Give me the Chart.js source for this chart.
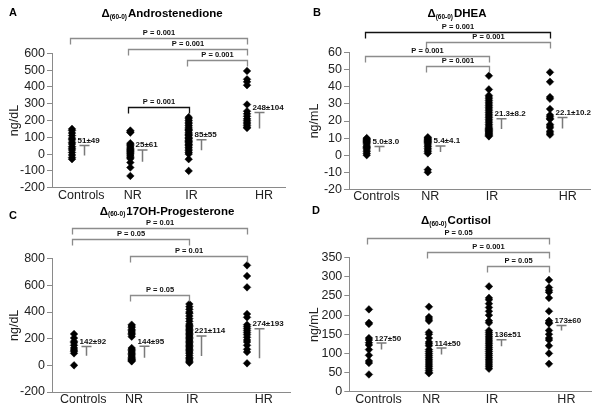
<!DOCTYPE html>
<html lang="en">
<head>
<meta charset="UTF-8">
<title>Δ(60-0) steroid responses</title>
<script src="https://cdn.jsdelivr.net/npm/chart.js"></script>
<style>
  html, body { margin: 0; padding: 0; background: #fff; }
  #grid { display: grid; grid-template-columns: 300px 300px; grid-template-rows: 206px 206px; width: 600px; height: 412px; }
  canvas { display: block; }
</style>
</head>
<body>
<div id="grid">
  <canvas id="panelA" width="300" height="206"></canvas>
  <canvas id="panelB" width="300" height="206"></canvas>
  <canvas id="panelC" width="300" height="206"></canvas>
  <canvas id="panelD" width="300" height="206"></canvas>
</div>

<script>
// groups on the x axis
const groupLabels = ['Controls', 'NR', 'IR', 'HR'];

// Δ(60-0) Androstenedione, ng/dL
const androControls = [150, 140, 125, 110, 95, 85, 70, 60, 45, 35, 25, 10, -5, -20, -30];
const androNR = [140, 132, 128, 65, 58, 50, 42, 35, 28, 22, 15, 8, 2, -5, -12, -20, -28, -50, -80, -130];
const androIR = [220, 210, 200, 190, 180, 170, 160, 150, 145, 140, 130, 120, 115, 110, 100, 95, 90, 80, 75, 70, 60, 55, 50, 40, 30, 20, 10, 0, -30, -100];
const androHR = [495, 445, 430, 410, 295, 255, 240, 225, 210, 200, 190, 180, 170, 160, 155];
const androMean = [51, 25, 85, 248];
const androSD = [49, 61, 55, 104];
const androErr = [60, 70, 62, 96];
const androTicks = [-200, 600, 100];

// Δ(60-0) DHEA, ng/mL
const dheaControls = [10, 9.5, 9, 8.5, 8, 7.5, 7, 6, 5, 4.5, 4, 3, 2, 1, 0];
const dheaNR = [10.5, 10, 9.5, 9, 8.5, 8, 7.5, 7, 6, 5, 4, 3, 2, 1, -8.5, -10];
const dheaIR = [46.5, 38.5, 35, 34, 33, 32, 31, 30, 29, 28, 27, 26, 25, 24, 23, 22, 21, 20, 19, 18, 17, 16, 15.5, 15, 14.5, 14, 13.5, 13, 12.5, 12, 11.5, 11];
const dheaHR = [48.5, 43, 34, 33, 27, 23.5, 22.5, 21.5, 21, 18, 17, 16, 14, 13, 12];
const dheaMean = [5.0, 5.4, 21.3, 22.1];
const dheaSD = [3.0, 4.1, 8.2, 10.2];
const dheaErr = [3, 3.5, 6, 6.5];
const dheaTicks = [-20, 60, 10];

// Δ(60-0) 17OH-Progesterone, ng/dL
const progControls = [235, 205, 180, 170, 150, 130, 115, 105, 90, 0];
const progNR = [305, 295, 285, 270, 260, 250, 240, 230, 215, 130, 120, 110, 100, 90, 80, 70, 60, 50, 45, 40, 35, 30];
const progIR = [460, 440, 420, 400, 390, 370, 350, 330, 310, 300, 290, 280, 270, 260, 250, 240, 230, 220, 210, 200, 190, 180, 170, 160, 150, 140, 130, 120, 110, 100, 90, 75, 60, 50, 40, 30, 20];
const progHR = [750, 670, 585, 385, 360, 305, 290, 275, 260, 245, 230, 210, 190, 175, 150, 120, 100, 15];
const progMean = [142, 144, 221, 274];
const progSD = [92, 95, 114, 193];
const progErr = [70, 87, 150, 220];
const progTicks = [-200, 800, 200];

// Δ(60-0) Cortisol, ng/mL
const cortControls = [215, 180, 177, 140, 135, 128, 122, 110, 95, 80, 75, 45];
const cortNR = [222, 195, 190, 185, 155, 150, 140, 130, 125, 120, 110, 105, 100, 95, 90, 85, 80, 75, 70, 65, 60, 55, 50, 48];
const cortIR = [275, 245, 240, 230, 220, 210, 200, 185, 180, 160, 155, 150, 145, 140, 135, 130, 125, 120, 115, 110, 105, 100, 95, 90, 85, 80, 75, 70, 65, 60];
const cortHR = [292, 272, 265, 260, 245, 210, 185, 180, 178, 160, 150, 140, 135, 120, 100, 73];
const cortMean = [127, 114, 136, 173];
const cortSD = [50, 50, 51, 60];
const cortErr = [17, 17, 17, 13];
const cortTicks = [0, 350, 50];

// significance brackets: [from group, to group, height in axis units, label]
const androBrackets = [[1, 4, 693, 'P = 0.001'], [2, 4, 624, 'P = 0.001'], [3, 4, 560, 'P = 0.001'], [2, 3, 278, 'P = 0.001']];
const dheaBrackets = [[1, 4, 72.3, 'P = 0.001'], [2, 4, 66.4, 'P = 0.001'], [1, 3, 58.1, 'P = 0.001'], [2, 3, 52.2, 'P = 0.001']];
const progBrackets = [[1, 4, 1032, 'P = 0.01'], [1, 3, 945, 'P = 0.05'], [2, 4, 820, 'P = 0.01'], [2, 3, 530, 'P = 0.05']];
const cortBrackets = [[1, 4, 401, 'P = 0.05'], [2, 4, 365, 'P = 0.001'], [3, 4, 328, 'P = 0.05']];

Chart.defaults.font.family = "Arial, 'Liberation Sans', sans-serif";
Chart.defaults.color = '#222';

const AXIS = '#8a8a8a';
const tickPos = [1.16, 2.04, 3.05, 4.29];

function makePanel(id, p) {
    const points = [];
    p.groups.forEach((vals, i) => vals.forEach(v => points.push({ x: i + 1, y: v })));

    const decor = {
        id: 'decor' + id,
        afterDraw(chart) {
            const { ctx, scales: { x, y } } = chart;
            ctx.save();

            // mean marker with downward error stem, and the mean±SD text
            p.mean.forEach((m, i) => {
                const cx = Math.round(x.getPixelForValue(i + 1) + 12) + 0.5;
                const top = y.getPixelForValue(m);
                const bot = y.getPixelForValue(m - p.err[i]);
                ctx.strokeStyle = '#7a7a7a';
                ctx.lineWidth = 1.5;
                ctx.beginPath();
                ctx.moveTo(cx - 5, top); ctx.lineTo(cx + 5, top);
                ctx.moveTo(cx, top); ctx.lineTo(cx, bot);
                ctx.stroke();
                ctx.fillStyle = '#111';
                ctx.font = "bold 8px Arial, 'Liberation Sans', sans-serif";
                ctx.textAlign = 'left';
                ctx.textBaseline = 'alphabetic';
                ctx.fillText(m.toFixed(p.dec) + '±' + p.sd[i].toFixed(p.dec), cx - 7, top - 2.5);
            });

            // brackets with P values
            p.brackets.forEach((b, k) => {
                const x1 = Math.round(x.getPixelForValue(b[0]) - 2) + 0.5;
                const x2 = Math.round(x.getPixelForValue(b[1])) + 0.5;
                const yy = Math.round(y.getPixelForValue(b[2])) + 0.5;
                ctx.strokeStyle = (p.darkBracket === k) ? '#111' : '#8c8c8c';
                ctx.lineWidth = 1.3;
                ctx.beginPath();
                ctx.moveTo(x1, yy + 6); ctx.lineTo(x1, yy); ctx.lineTo(x2, yy); ctx.lineTo(x2, yy + 6);
                ctx.stroke();
                ctx.fillStyle = '#111';
                ctx.font = "bold 7.5px Arial, 'Liberation Sans', sans-serif";
                ctx.textAlign = 'center';
                ctx.textBaseline = 'bottom';
                ctx.fillText(b[3], (x1 + x2) / 2, yy - 1.5);
            });

            // panel letter and title with subscript
            ctx.fillStyle = '#000';
            ctx.textBaseline = 'middle';
            ctx.textAlign = 'left';
            ctx.font = "bold 11px Arial, 'Liberation Sans', sans-serif";
            ctx.fillText(p.letter, p.letterX, p.letterY);
            const big = "bold 11.5px Arial, 'Liberation Sans', sans-serif";
            const small = "bold 6.5px Arial, 'Liberation Sans', sans-serif";
            ctx.font = big;
            const wD = ctx.measureText('Δ').width;
            const wN = ctx.measureText(p.name).width;
            ctx.font = small;
            const wS = ctx.measureText('(60-0)').width + 1;
            let tx = p.titleX - (wD + wS + wN) / 2;
            ctx.font = big;
            ctx.fillText('Δ', tx, p.titleY);
            ctx.font = small;
            ctx.fillText('(60-0)', tx + wD, p.titleY + 3);
            ctx.font = big;
            ctx.fillText(p.name, tx + wD + wS, p.titleY);
            ctx.restore();
        }
    };

    new Chart(document.getElementById(id), {
        type: 'scatter',
        data: {
            datasets: [{
                data: points,
                pointStyle: 'rectRot',
                pointRadius: 3.8,
                backgroundColor: '#000',
                borderColor: '#000',
                borderWidth: 0.5
            }]
        },
        options: {
            responsive: false,
            animation: false,
            events: [],
            clip: false,
            layout: { padding: { left: 0, right: p.padRight, top: p.padTop, bottom: 0 } },
            plugins: { legend: { display: false }, tooltip: { enabled: false } },
            scales: {
                x: {
                    type: 'linear',
                    min: p.xMin,
                    max: p.xMax,
                    afterBuildTicks: ax => { ax.ticks = tickPos.map(v => ({ value: v })); },
                    afterFit: ax => { ax.height = p.xHeight; },
                    ticks: {
                        callback: (v, i) => groupLabels[i],
                        font: { size: 12.5 },
                        color: '#222',
                        padding: 0,
                        maxRotation: 0,
                        autoSkip: false
                    },
                    grid: { display: true, drawOnChartArea: false, drawTicks: false },
                    border: { color: AXIS, width: 1 }
                },
                y: {
                    min: p.ticks[0],
                    max: p.ticks[1],
                    afterFit: ax => { ax.width = p.yWidth; },
                    ticks: { stepSize: p.ticks[2], autoSkip: false, font: { size: 12.5 }, color: '#222', padding: 2 },
                    title: { display: true, text: p.unit, font: { size: 12.5 }, color: '#222', padding: { top: 7, bottom: 0 } },
                    grid: { drawOnChartArea: false, tickLength: 5, color: AXIS },
                    border: { color: AXIS, width: 1 }
                }
            }
        },
        plugins: [decor]
    });
}

makePanel('panelA', {
    groups: [androControls, androNR, androIR, androHR],
    mean: androMean, sd: androSD, err: androErr, dec: 0, ticks: androTicks,
    brackets: androBrackets, darkBracket: 3,
    unit: 'ng/dL', letter: 'A', name: 'Androstenedione',
    letterX: 9, letterY: 13, titleX: 162, titleY: 14,
    padTop: 53.3, padRight: 15, yWidth: 52, xHeight: 18.3, xMin: 0.657, xMax: 4.651
});

makePanel('panelB', {
    groups: [dheaControls, dheaNR, dheaIR, dheaHR],
    mean: dheaMean, sd: dheaSD, err: dheaErr, dec: 1, ticks: dheaTicks,
    brackets: dheaBrackets, darkBracket: 0,
    unit: 'ng/mL', letter: 'B', name: 'DHEA',
    letterX: 13, letterY: 13, titleX: 157, titleY: 14,
    padTop: 52.7, padRight: 10, yWidth: 49, xHeight: 16.7, xMin: 0.71, xMax: 4.655
});

makePanel('panelC', {
    groups: [progControls, progNR, progIR, progHR],
    mean: progMean, sd: progSD, err: progErr, dec: 0, ticks: progTicks,
    brackets: progBrackets, darkBracket: -1,
    unit: 'ng/dL', letter: 'C', name: '17OH-Progesterone',
    letterX: 9, letterY: 10, titleX: 167, titleY: 5.5,
    padTop: 52.7, padRight: 10, yWidth: 52, xHeight: 20, xMin: 0.618, xMax: 4.745
});

makePanel('panelD', {
    groups: [cortControls, cortNR, cortIR, cortHR],
    mean: cortMean, sd: cortSD, err: cortErr, dec: 0, ticks: cortTicks,
    brackets: cortBrackets, darkBracket: -1,
    unit: 'ng/mL', letter: 'D', name: 'Cortisol',
    letterX: 12, letterY: 5, titleX: 156, titleY: 15,
    padTop: 51.7, padRight: 9, yWidth: 49.3, xHeight: 20.3, xMin: 0.673, xMax: 4.70
});
</script>
</body>
</html>
